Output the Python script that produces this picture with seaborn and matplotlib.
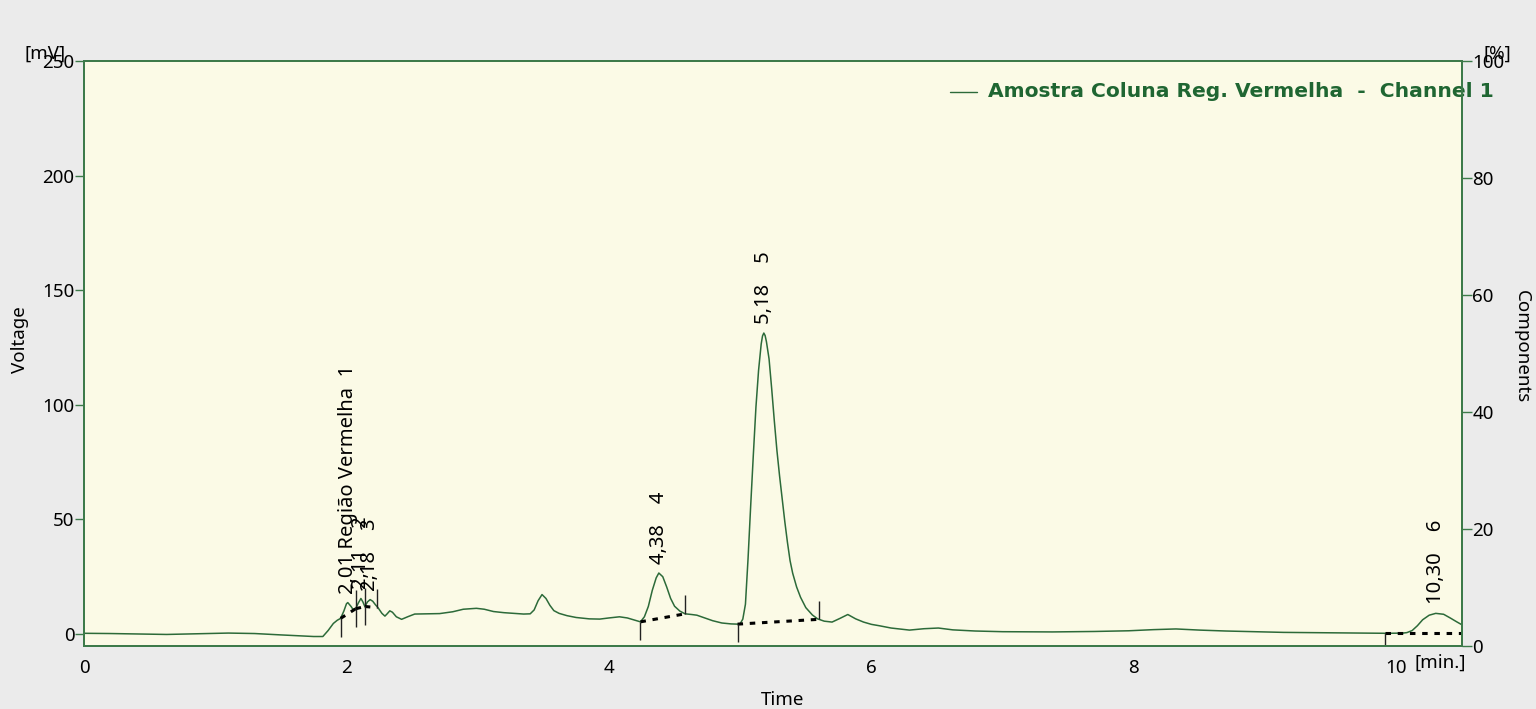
import numpy as np
import pandas as pd
import matplotlib
matplotlib.use("Agg")
import matplotlib.pyplot as plt
import seaborn as sns

# Chromatogram trace: retention time [min] and detector signal [mV]
time_min = [
    0.00, 0.20, 0.40, 0.63, 0.85, 1.10, 1.30, 1.50, 1.65, 1.75, 1.82,
    1.86, 1.90, 1.93, 1.955, 1.98, 2.00, 2.01, 2.035, 2.05, 2.07, 2.09,
    2.11, 2.125, 2.14, 2.16, 2.18, 2.20, 2.22, 2.24, 2.27, 2.293, 2.31,
    2.33, 2.35, 2.38, 2.42, 2.47, 2.52, 2.60, 2.71, 2.81, 2.89, 2.99,
    3.05, 3.12, 3.20, 3.27, 3.35, 3.40, 3.43, 3.46, 3.49, 3.52, 3.55,
    3.58, 3.62, 3.68, 3.75, 3.85, 3.93, 4.00, 4.08, 4.14, 4.20, 4.24,
    4.27, 4.30, 4.33, 4.36, 4.38, 4.41, 4.44, 4.47, 4.50, 4.54, 4.58,
    4.63, 4.67, 4.73, 4.79, 4.86, 4.93, 4.98, 5.00, 5.02, 5.04, 5.06,
    5.08, 5.10, 5.12, 5.14, 5.16, 5.17, 5.18, 5.19, 5.20, 5.22, 5.24,
    5.26, 5.28, 5.30, 5.32, 5.34, 5.36, 5.38, 5.40, 5.43, 5.46, 5.50,
    5.55, 5.59, 5.64, 5.70, 5.76, 5.82, 5.88, 5.94, 6.00, 6.06, 6.15,
    6.29, 6.40, 6.51, 6.62, 6.79, 7.00, 7.38, 7.70, 7.96, 8.15, 8.32,
    8.50, 8.70, 9.14, 9.50, 9.93, 10.05, 10.08, 10.12, 10.16, 10.20,
    10.25, 10.30, 10.36, 10.41, 10.46, 10.50,
]
voltage_mv = [
    0.3, 0.2, 0.0, -0.2, 0.1, 0.4, 0.2, -0.4, -0.8, -1.1, -1.1,
    1.5, 4.6, 6.0, 6.8, 10.0, 13.2, 13.7, 12.0, 10.7, 11.0, 13.5,
    15.5, 14.0, 12.0, 14.0, 15.0, 14.3, 12.8, 11.5, 9.0, 7.8, 8.8,
    10.1, 9.5, 7.5, 6.4, 7.6, 8.7, 8.8, 8.9, 9.7, 10.8, 11.2,
    10.8, 9.8, 9.3, 9.0, 8.7, 8.8, 10.5, 14.5, 17.2, 15.5, 12.5,
    10.2, 9.0, 8.0, 7.2, 6.6, 6.5, 7.0, 7.5, 7.0, 6.0, 5.3,
    7.5, 12.0, 19.0, 24.5, 26.6, 25.0, 20.5, 15.5, 12.1, 10.0, 8.8,
    8.5, 8.2, 7.0, 5.8, 4.8, 4.4, 4.3, 4.5, 6.5, 13.0, 33.0,
    56.0, 78.0, 99.0, 115.0, 126.5, 130.0, 131.3, 130.2, 127.5, 120.0, 107.0,
    93.0, 80.0, 69.0, 59.0, 49.0, 40.0, 32.0, 26.5, 20.5, 16.0, 11.5,
    8.3, 6.6, 5.6, 5.2, 6.8, 8.5, 6.6, 5.2, 4.2, 3.6, 2.6,
    1.7, 2.3, 2.6, 1.8, 1.3, 1.0, 0.9, 1.1, 1.4, 1.9, 2.2,
    1.7, 1.3, 0.7, 0.5, 0.3, 0.4, 0.6, 1.5, 3.6, 6.2,
    8.2, 9.0, 8.6, 7.0, 5.3, 4.0,
]

# Integrated peaks
peak_ids = ["1", "2", "3", "4", "5", "6"]
peak_times = [2.01, 2.11, 2.18, 4.38, 5.18, 10.30]
peak_names = ["Região Vermelha", "", "", "", "", ""]

# Integration baselines (start / end time and signal)
bl_start_t = [1.955, 2.07, 2.14, 4.24, 4.98, 9.91]
bl_end_t = [2.07, 2.14, 2.235, 4.58, 5.60, 10.56]
bl_start_v = [6.8, 11.0, 12.0, 5.3, 4.3, 0.3]
bl_end_v = [11.0, 12.0, 11.5, 8.8, 6.4, 0.3]

x_ticks = [0, 2, 4, 6, 8, 10]
y_ticks = [0, 50, 100, 150, 200, 250]
y2_ticks = [0, 20, 40, 60, 80, 100]

legend_label = "Amostra Coluna Reg. Vermelha  -  Channel 1"

trace_color = "#2c6a39"
spine_color = "#3d7a4a"
text_green = "#1f6632"

sns.set_theme(style="white")
plt.rcParams["font.family"] = ["Noto Sans", "DejaVu Sans"]
plt.rcParams["text.color"] = "black"

fig = plt.figure(figsize=(15.36, 7.09), dpi=100, facecolor="#ebebeb")
ax = fig.add_axes([84 / 1536, 1 - 646 / 709, (1462 - 84) / 1536, (646 - 61) / 709])
ax.set_facecolor("#fbfae6")

df = pd.DataFrame({"Time": time_min, "Voltage": voltage_mv})
sns.lineplot(data=df, x="Time", y="Voltage", ax=ax, color=trace_color,
             linewidth=1.1, sort=False, estimator=None, zorder=3)

ax.set_xlim(0, 10.5)
ax.set_ylim(-5.24, 250)

# Integration baselines and boundary markers
tick_len = 8.0
for ts, te, vs, ve in zip(bl_start_t, bl_end_t, bl_start_v, bl_end_v):
    ax.plot([ts, te], [vs, ve], color="black", linewidth=2.2,
            linestyle=(0, (1.8, 2.2)), zorder=4, clip_on=True)
    ax.vlines(ts, vs - tick_len, vs, color="#222222", linewidth=1.0, zorder=4)
    ax.vlines(te, ve, ve + tick_len, color="#222222", linewidth=1.0, zorder=4)

# Peak labels
for pid, pt, pname in zip(peak_ids, peak_times, peak_names):
    apex = np.interp(pt, time_min, voltage_mv)
    rt = f"{pt:.2f}".replace(".", ",")
    label = f"{rt} {pname}  {pid}" if pname else f"{rt}    {pid}"
    ax.annotate(label, xy=(pt, apex), xytext=(0, 6.5), textcoords="offset points",
                rotation=90, ha="center", va="bottom", fontsize=14.5,
                color="black", zorder=5)

# Axes styling
for side in ["left", "right", "top", "bottom"]:
    ax.spines[side].set_color(spine_color)
    ax.spines[side].set_linewidth(1.4)
ax.set_xticks(x_ticks)
ax.set_yticks(y_ticks)
ax.tick_params(axis="both", direction="out", length=6.5, width=1.0,
               color=spine_color, labelsize=13.5, labelcolor="black")
ax.tick_params(axis="x", pad=3)
ax.tick_params(axis="y", pad=0.5)
ax.set_xlabel("")
ax.set_ylabel("")

ax2 = ax.twinx()
ax2.set_ylim(0, 100)
ax2.set_yticks(y2_ticks)
ax2.tick_params(axis="y", direction="out", length=7, width=1.0,
                color=spine_color, labelsize=13.5, labelcolor="black", pad=0.5)
for side in ["left", "right", "top", "bottom"]:
    ax2.spines[side].set_color(spine_color)
    ax2.spines[side].set_linewidth(1.4)
ax2.grid(False)

# Legend entry
ax.plot([0.6285, 0.6480], [0.9475, 0.9475], transform=ax.transAxes,
        color=trace_color, linewidth=1.0, clip_on=False, zorder=5)
ax.text(0.656, 0.9475, legend_label, transform=ax.transAxes, fontsize=14.6,
        fontweight="bold", family="DejaVu Sans", color=text_green,
        ha="left", va="center", clip_on=False, zorder=2)

# Axis titles and units
fig.text(20 / 1536, 1 - 340 / 709, "Voltage", rotation=90, ha="center",
         va="center", fontsize=13.5)
fig.text(1522 / 1536, 1 - 347 / 709, "Components", rotation=270, ha="center",
         va="center", fontsize=13.5)
fig.text(783 / 1536, 1 - 700 / 709, "Time", ha="center", va="center",
         fontsize=13.5)
fig.text(1440 / 1536, 1 - 663 / 709, "[min.]", ha="center", va="center",
         fontsize=13.5)
fig.text(45 / 1536, 1 - 54 / 709, "[mV]", ha="center", va="center",
         fontsize=13.5)
fig.text(1497 / 1536, 1 - 54 / 709, "[%]", ha="center", va="center",
         fontsize=13.5)

fig.savefig("out.png", dpi=100, facecolor=fig.get_facecolor())
